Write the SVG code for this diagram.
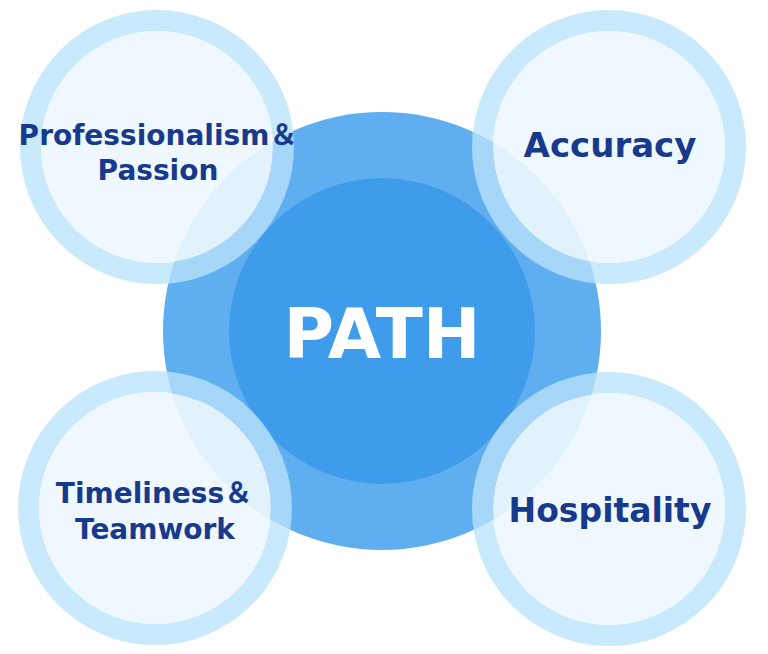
<svg xmlns="http://www.w3.org/2000/svg" width="768" height="654" viewBox="0 0 768 654">
<style>
.ring{fill:none;stroke:#bae3fb;stroke-opacity:0.78;stroke-width:21}
.core{fill:#edf7fe;fill-opacity:0.92}
.lbl{font-family:"DejaVu Sans","Noto Sans CJK JP",sans-serif;font-weight:bold;fill:#183a8c;text-anchor:middle}
.big{font-family:"DejaVu Sans",sans-serif;font-weight:bold;fill:#ffffff;text-anchor:middle}
</style>
<rect width="768" height="654" fill="#ffffff"/>
<g id="path-center">
<circle cx="382" cy="331" r="219" fill="#5faeef"/>
<circle cx="382" cy="331" r="153" fill="#3f9cea"/>
<text class="big" x="382" y="358" font-size="69">PATH</text>
</g>
<g id="connectors"></g>
<g id="professionalism">
<circle class="ring" cx="157" cy="147" r="126.5"/>
<circle class="core" cx="157" cy="147" r="116"/>
<text class="lbl" x="158" y="145" font-size="28">Professionalism＆</text>
<text class="lbl" x="158" y="180" font-size="28">Passion</text>
</g>
<g id="accuracy">
<circle class="ring" cx="609" cy="147" r="126.5"/>
<circle class="core" cx="609" cy="147" r="116"/>
<text class="lbl" x="610" y="157" font-size="34">Accuracy</text>
</g>
<g id="timeliness">
<circle class="ring" cx="155" cy="508" r="126.5"/>
<circle class="core" cx="155" cy="508" r="116"/>
<text class="lbl" x="154" y="503" font-size="28">Timeliness＆</text>
<text class="lbl" x="155" y="539" font-size="28">Teamwork</text>
</g>
<g id="hospitality">
<circle class="ring" cx="609" cy="509" r="126.5"/>
<circle class="core" cx="609" cy="509" r="116"/>
<text class="lbl" x="610" y="522" font-size="33">Hospitality</text>
</g>
</svg>
